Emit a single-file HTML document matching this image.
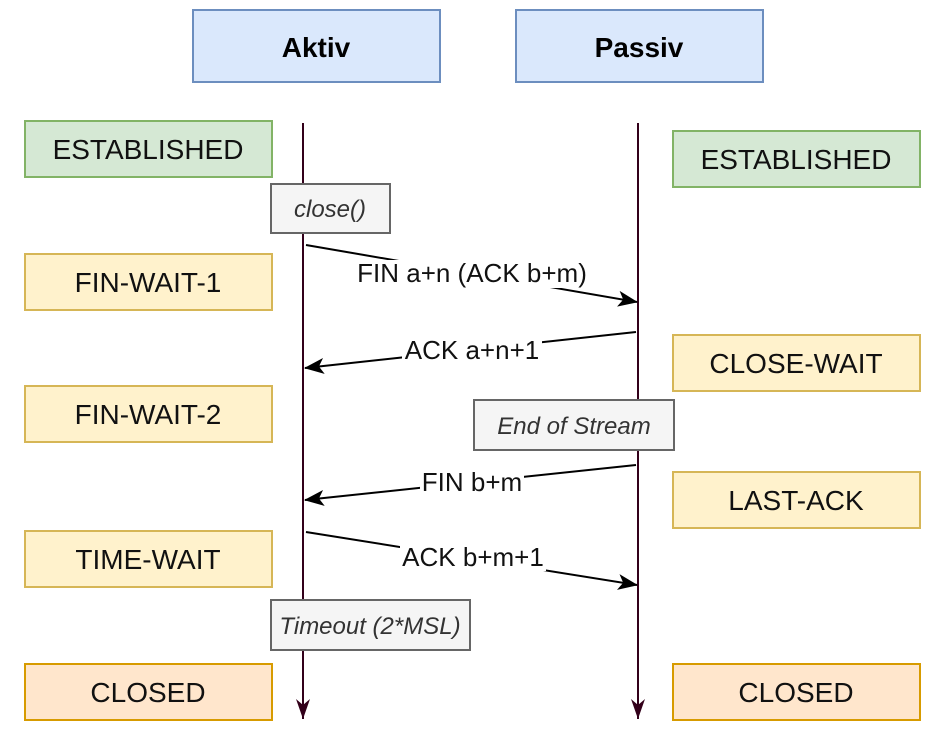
<!DOCTYPE html>
<html><head><meta charset="utf-8"><style>html,body{margin:0;padding:0;background:#fff}svg{display:block}</style></head>
<body>
<svg width="946" height="734" viewBox="0 0 946 734" xmlns="http://www.w3.org/2000/svg" font-family="'Liberation Sans', Arial, sans-serif">
<defs>
<marker id="a" markerWidth="20" markerHeight="16" refX="19" refY="8" orient="auto" markerUnits="userSpaceOnUse" viewBox="0 0 20 16">
<path d="M0,0 L20,8 L0,16 L5,8 Z" fill="#000"/></marker>
<marker id="b" markerWidth="14" markerHeight="20" refX="7" refY="20" orient="0" markerUnits="userSpaceOnUse" viewBox="0 0 14 20">
<path d="M0,0 L7,20 L14,0 L7,6 Z" fill="#33001a"/></marker>
</defs>
<rect x="193" y="10" width="247" height="72" fill="#dae8fc" stroke="#6c8ebf" stroke-width="2"/>
<text x="316" y="57" font-size="28" font-weight="bold" text-anchor="middle">Aktiv</text>
<rect x="516" y="10" width="247" height="72" fill="#dae8fc" stroke="#6c8ebf" stroke-width="2"/>
<text x="639" y="57" font-size="28" font-weight="bold" text-anchor="middle">Passiv</text>
<line x1="303" y1="123" x2="303" y2="719" stroke="#33001a" stroke-width="2" marker-end="url(#b)"/>
<line x1="638" y1="123" x2="638" y2="719" stroke="#33001a" stroke-width="2" marker-end="url(#b)"/>
<g font-size="28" text-anchor="middle" fill="#111">
<rect x="25" y="121" width="247" height="56" fill="#d5e8d4" stroke="#82b366" stroke-width="2"/>
<text x="148" y="159">ESTABLISHED</text>
<rect x="25" y="254" width="247" height="56" fill="#fff2cc" stroke="#d6b656" stroke-width="2"/>
<text x="148" y="292">FIN-WAIT-1</text>
<rect x="25" y="386" width="247" height="56" fill="#fff2cc" stroke="#d6b656" stroke-width="2"/>
<text x="148" y="424">FIN-WAIT-2</text>
<rect x="25" y="531" width="247" height="56" fill="#fff2cc" stroke="#d6b656" stroke-width="2"/>
<text x="148" y="569">TIME-WAIT</text>
<rect x="25" y="664" width="247" height="56" fill="#ffe6cc" stroke="#d79b00" stroke-width="2"/>
<text x="148" y="702">CLOSED</text>
<rect x="673" y="131" width="247" height="56" fill="#d5e8d4" stroke="#82b366" stroke-width="2"/>
<text x="796" y="169">ESTABLISHED</text>
<rect x="673" y="335" width="247" height="56" fill="#fff2cc" stroke="#d6b656" stroke-width="2"/>
<text x="796" y="373">CLOSE-WAIT</text>
<rect x="673" y="472" width="247" height="56" fill="#fff2cc" stroke="#d6b656" stroke-width="2"/>
<text x="796" y="510">LAST-ACK</text>
<rect x="673" y="664" width="247" height="56" fill="#ffe6cc" stroke="#d79b00" stroke-width="2"/>
<text x="796" y="702">CLOSED</text>
</g>
<g font-size="24" font-style="italic" text-anchor="middle" fill="#333">
<rect x="271" y="184" width="119" height="49" fill="#f5f5f5" stroke="#666" stroke-width="2"/>
<text x="330" y="217">close()</text>
<rect x="474" y="400" width="200" height="50" fill="#f5f5f5" stroke="#666" stroke-width="2"/>
<text x="574" y="434">End of Stream</text>
<rect x="271" y="600" width="199" height="50" fill="#f5f5f5" stroke="#666" stroke-width="2"/>
<text x="370" y="634">Timeout (2*MSL)</text>
</g>
<g stroke="#000" stroke-width="2" fill="none">
<line x1="306" y1="245" x2="637" y2="302" marker-end="url(#a)"/>
<line x1="636" y1="332" x2="305" y2="368" marker-end="url(#a)"/>
<line x1="636" y1="465" x2="305" y2="500" marker-end="url(#a)"/>
<line x1="306" y1="532" x2="637" y2="585" marker-end="url(#a)"/>
</g>
<g font-size="26" text-anchor="middle" fill="#111">
<rect x="352" y="260" width="240" height="28" fill="#fff"/>
<text x="472" y="282">FIN a+n (ACK b+m)</text>
<rect x="402" y="338" width="140" height="26" fill="#fff"/>
<text x="472" y="359">ACK a+n+1</text>
<rect x="420" y="470" width="104" height="26" fill="#fff"/>
<text x="472" y="491">FIN b+m</text>
<rect x="400" y="545" width="146" height="26" fill="#fff"/>
<text x="473" y="566">ACK b+m+1</text>
</g>
</svg>
</body></html>
